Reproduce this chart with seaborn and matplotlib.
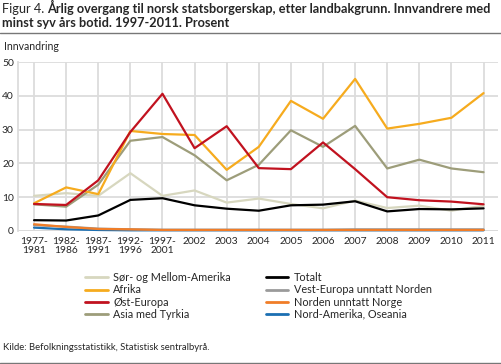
import pandas as pd
import matplotlib.pyplot as plt
import seaborn as sns
from matplotlib.lines import Line2D

periods = ["1977-\n1981", "1982-\n1986", "1987-\n1991", "1992-\n1996", "1997-\n2001",
           "2002", "2003", "2004", "2005", "2006", "2007", "2008", "2009", "2010", "2011"]

sor_mellom_amerika = [10.4, 11.2, 10.4, 17.1, 10.4, 12.0, 8.4, 9.6, 8.0, 6.7, 9.0, 6.8, 7.5, 6.0, 7.5]
afrika = [8.2, 12.9, 10.9, 29.6, 28.7, 28.4, 18.1, 24.9, 38.5, 33.2, 45.0, 30.3, 31.7, 33.5, 40.8]
ost_europa = [8.0, 7.7, 15.0, 29.3, 40.6, 24.5, 31.0, 18.6, 18.3, 26.2, 18.3, 10.0, 9.1, 8.7, 7.9]
asia_tyrkia = [7.9, 7.2, 13.7, 26.7, 27.8, 22.4, 15.0, 19.6, 29.8, 24.9, 31.1, 18.5, 21.1, 18.5, 17.4]
totalt = [3.2, 3.1, 4.6, 9.2, 9.7, 7.6, 6.6, 6.0, 7.6, 7.8, 8.8, 5.8, 6.5, 6.4, 6.7]
vest_europa = [1.7, 1.3, 0.7, 0.5, 0.4, 0.4, 0.4, 0.4, 0.4, 0.4, 0.5, 0.5, 0.5, 0.5, 0.5]
norden = [2.0, 1.2, 0.6, 0.5, 0.3, 0.3, 0.3, 0.3, 0.3, 0.3, 0.3, 0.3, 0.3, 0.3, 0.3]
nord_amerika = [1.0, 0.5, 0.3, 0.2, 0.2, 0.2, 0.2, 0.2, 0.2, 0.2, 0.2, 0.2, 0.2, 0.2, 0.2]

series = {
    "Sør- og Mellom-Amerika": sor_mellom_amerika,
    "Afrika": afrika,
    "Øst-Europa": ost_europa,
    "Asia med Tyrkia": asia_tyrkia,
    "Totalt": totalt,
    "Vest-Europa unntatt Norden": vest_europa,
    "Norden unntatt Norge": norden,
    "Nord-Amerika, Oseania": nord_amerika,
}
colors = {
    "Sør- og Mellom-Amerika": "#d7d7bf",
    "Afrika": "#f6ab1e",
    "Øst-Europa": "#c1121f",
    "Asia med Tyrkia": "#9d9d7a",
    "Totalt": "#000000",
    "Vest-Europa unntatt Norden": "#9a9a9a",
    "Norden unntatt Norge": "#f07d28",
    "Nord-Amerika, Oseania": "#1b6fb2",
}
# drawing order: small ones at the bottom
draw_order = ["Nord-Amerika, Oseania", "Vest-Europa unntatt Norden", "Norden unntatt Norge",
              "Sør- og Mellom-Amerika", "Totalt", "Asia med Tyrkia", "Afrika", "Øst-Europa"]

rows = []
for name, vals in series.items():
    for i, v in enumerate(vals):
        rows.append({"Region": name, "x": i, "value": v})
df = pd.DataFrame(rows)

sns.set_style("white")
plt.rcParams['font.family'] = ['Lato', 'DejaVu Sans']

W, H = 502, 364
fig = plt.figure(figsize=(W / 100, H / 100), dpi=100)
ax = fig.add_axes([18 / W, (H - 231) / H, 480 / W, (231 - 62) / H])

for name in draw_order:
    sub = df[df["Region"] == name]
    sns.lineplot(data=sub, x="x", y="value", color=colors[name], lw=1.6,
                 ax=ax, legend=False, clip_on=False)

ax.set_xlim(-0.5, 14.45)
ax.set_ylim(0, 50)
ax.set_xticks(range(len(periods)))
ax.set_xticklabels(periods, fontsize=7.4, linespacing=1.0)
ax.set_yticks([0, 10, 20, 30, 40, 50])
ax.set_yticklabels(["0", "10", "20", "30", "40", "50"], fontsize=7.4)
ax.tick_params(axis='x', length=0, pad=4)
ax.tick_params(axis='y', length=0, pad=3)
ax.set_xlabel("")
ax.set_ylabel("")
ax.grid(True, color="#dcdcdc", lw=1.3)
ax.set_axisbelow(True)
for s in ax.spines.values():
    s.set_visible(False)
ax.spines["left"].set_visible(True)
ax.spines["left"].set_color("#dcdcdc")
ax.spines["left"].set_linewidth(1.3)
ax.axhline(0, color="#c8c8c8", lw=1.3, zorder=0.5)

# title: normal "Figur 4." followed by bold text
fs_title = 9.15
t1 = fig.text(2 / W, 1 - 13 / H, "Figur 4.", fontsize=fs_title, va="baseline", ha="left")
fig.canvas.draw()
bb = t1.get_window_extent()
x_bold = (bb.x1 + 3) / W
fig.text(x_bold, 1 - 13 / H,
         "Årlig overgang til norsk statsborgerskap, etter landbakgrunn. Innvandrere med",
         fontsize=fs_title, va="baseline", ha="left", fontweight="bold")
fig.text(2 / W, 1 - 27 / H, "minst syv års botid. 1997-2011. Prosent",
         fontsize=fs_title, va="baseline", ha="left", fontweight="bold")
fig.add_artist(Line2D([0, 1], [1 - 33 / H, 1 - 33 / H], color="#777777", lw=1))
fig.text(4 / W, 1 - 46 / H, "Innvandring", fontsize=7.6, va="center", ha="left")

legend_order = ["Sør- og Mellom-Amerika", "Afrika", "Øst-Europa", "Asia med Tyrkia",
                "Totalt", "Vest-Europa unntatt Norden", "Norden unntatt Norge", "Nord-Amerika, Oseania"]
handles = [Line2D([], [], color=colors[n], lw=2) for n in legend_order]
fig.legend(handles, legend_order, loc="upper left", bbox_to_anchor=(85 / W, 1 - 272 / H),
           ncol=2, frameon=False, fontsize=7.8, handlelength=2.1, handletextpad=0.5,
           columnspacing=3.2, labelspacing=0.12, borderaxespad=0, borderpad=0)

fig.text(3 / W, 1 - 348 / H, "Kilde: Befolkningsstatistikk, Statistisk sentralbyrå.",
         fontsize=6.8, va="center", ha="left")
fig.add_artist(Line2D([0, 1], [1 / H, 1 / H], color="#777777", lw=1))

fig.savefig("out.png", dpi=100)
